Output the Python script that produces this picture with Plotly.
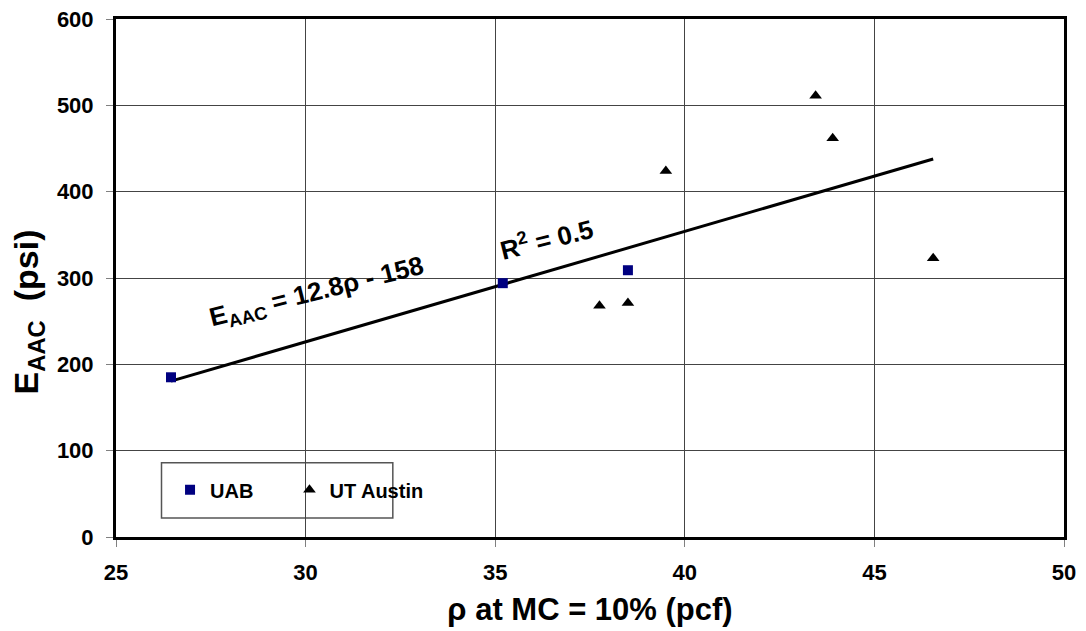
import plotly.graph_objects as go

# ---- data ----
uab_x = [26.45, 35.2, 38.5]
uab_y = [185, 294, 309]
ut_x = [37.75, 38.5, 39.5, 43.45, 43.9, 46.55]
ut_y = [268, 271, 424, 511, 462, 323]
slope = 12.8
intercept = -158
x_ticks = [25, 30, 35, 40, 45, 50]
y_ticks = [0, 100, 200, 300, 400, 500, 600]

FONT = "Arial, Liberation Sans, sans-serif"

all_x = uab_x + ut_x
fit_x = [min(all_x), max(all_x)]
fit_y = [slope * v + intercept for v in fit_x]

fig = go.Figure()
fig.add_trace(go.Scatter(x=fit_x, y=fit_y, mode="lines",
                         line=dict(color="black", width=3), showlegend=False,
                         hoverinfo="skip"))
fig.add_trace(go.Scatter(x=uab_x, y=uab_y, mode="markers", name="UAB",
                         legend="legend",
                         marker=dict(symbol="square", size=10, color="#000080")))
fig.add_trace(go.Scatter(x=ut_x, y=ut_y, mode="markers", name="UT Austin",
                         legend="legend2",
                         marker=dict(symbol="triangle-up", size=11, color="black")))

axis_common = dict(showline=True, mirror=True, linewidth=3, linecolor="black",
                   showgrid=True, gridcolor="#444444", gridwidth=1,
                   ticks="outside", ticklen=7, tickcolor="#808080", tickwidth=1,
                   tickfont=dict(family=FONT, size=22, color="black", weight="bold"),
                   zeroline=False, automargin=False)

fig.update_xaxes(range=[25, 50], tickvals=x_ticks, ticklabelstandoff=7, **axis_common,
                 title=dict(text="ρ at MC = 10% (pcf)", standoff=14,
                            font=dict(family=FONT, size=31, color="black", weight="bold")))
fig.update_yaxes(range=[0, 600], tickvals=y_ticks, ticklabelstandoff=8, **axis_common)

# y-axis title as annotation
fig.add_annotation(text="E<sub>AAC</sub>  (psi)", textangle=-90,
                   xref="paper", yref="paper", x=-0.092, y=0.435,
                   xanchor="center", yanchor="middle", showarrow=False,
                   font=dict(family=FONT, size=34, color="black", weight="bold"))

fig.add_annotation(text="E<sub>AAC</sub> = 12.8ρ - 158", textangle=-14,
                   x=30.3, y=283, xref="x", yref="y", showarrow=False,
                   font=dict(family=FONT, size=26, color="black", weight="bold"))
fig.add_annotation(text="R<sup>2</sup> = 0.5", textangle=-14,
                   x=36.35, y=346, xref="x", yref="y", showarrow=False,
                   font=dict(family=FONT, size=26, color="black", weight="bold"))

# legend box
fig.add_shape(type="rect", xref="x", yref="y", x0=26.2, x1=32.3, y0=22, y1=86,
              line=dict(color="#555555", width=1.5), fillcolor="white", layer="below")

leg_font = dict(family=FONT, size=20, color="black", weight="bold")
fig.update_layout(
    width=1086, height=631,
    margin=dict(l=116, r=22, t=19, b=94, autoexpand=False),
    paper_bgcolor="white", plot_bgcolor="white",
    font=dict(family=FONT, color="black"),
    showlegend=True,
    legend=dict(orientation="h", x=0.057, y=0.091, xanchor="left", yanchor="middle",
                bgcolor="rgba(0,0,0,0)", borderwidth=0, font=leg_font),
    legend2=dict(orientation="h", x=0.183, y=0.091, xanchor="left", yanchor="middle",
                 bgcolor="rgba(0,0,0,0)", borderwidth=0, font=leg_font),
)

fig.write_html("out.html")
